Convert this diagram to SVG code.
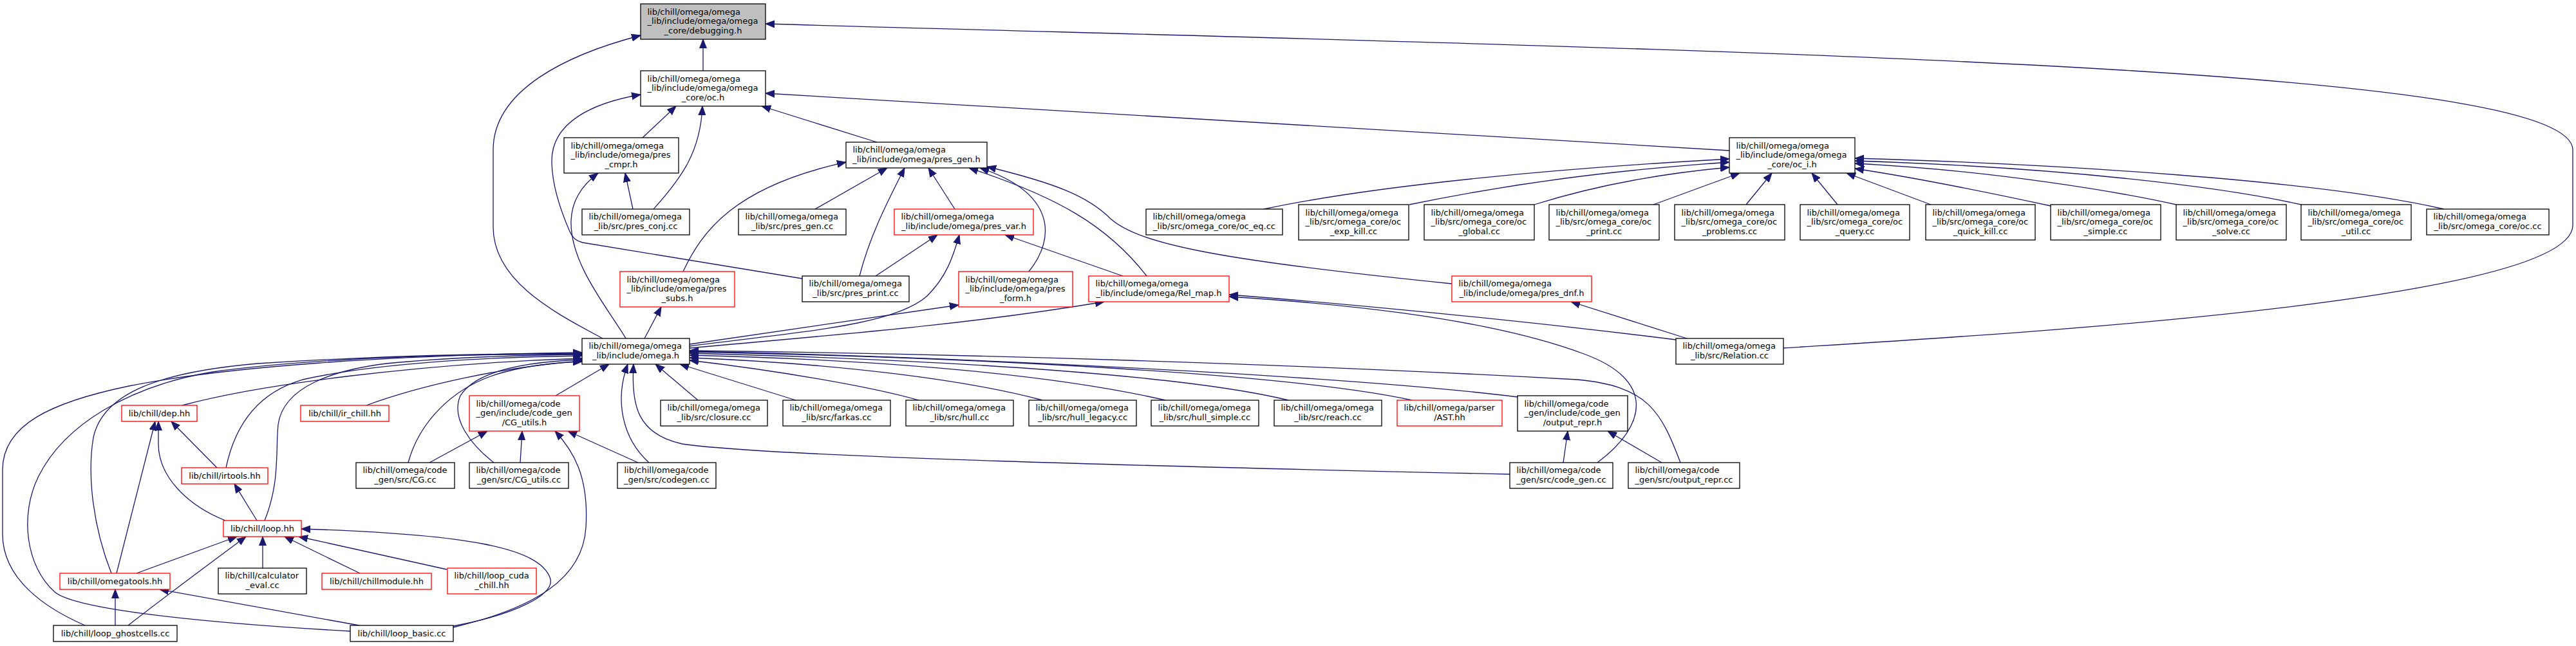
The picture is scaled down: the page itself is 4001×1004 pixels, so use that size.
<svg xmlns="http://www.w3.org/2000/svg" width="4001" height="1004" viewBox="0 0 4001 1004">
<style>
.n rect{fill:#fff;stroke:#000;stroke-width:1.3}
.n.red rect{stroke:#f00}
.n.root rect{fill:#bfbfbf}
text{font-family:"DejaVu Sans","Liberation Sans",sans-serif;font-size:13px;fill:#000}
.l{text-anchor:start}
.c{text-anchor:middle}
#edges path{fill:none;stroke:#191970;stroke-width:1.3;marker-end:url(#a)}
</style>
<defs>
<marker id="a" markerUnits="userSpaceOnUse" markerWidth="14" markerHeight="12" refX="14" refY="6" orient="auto" viewBox="0 0 14 12"><path d="M0,0.5 L14,6 L0,11.5 z" fill="#191970" stroke="#191970" stroke-width="1"/></marker>
</defs>
<rect x="0" y="0" width="4001" height="1004" fill="#fff"/>
<g id="edges">
<path d="M1092,110 L1092,61"/>
<path d="M936,526 C870,490 766,440 766,353 L766,233 C766,140 880,85 995,55"/>
<path d="M2770,541 C3100,520 3996,470 3996,350 L3996,233 C3996,100 2700,80 1189,37"/>
<path d="M998,214 L1050,165"/>
<path d="M1015,325 C1060,275 1088,235 1091,165"/>
<path d="M983,325 L971,269"/>
<path d="M1362,221 L1183,165"/>
<path d="M2686,234 Q1950,188 1189,145"/>
<path d="M1246,433 L905,377 Q891,374 885,360 C872,330 857,290 857,250 C857,190 920,160 995,147"/>
<path d="M1266,325 L1378,261"/>
<path d="M1335,429 C1350,370 1375,320 1405,261"/>
<path d="M1483,325 L1442,261"/>
<path d="M1781,429 C1720,350 1640,305 1505,261"/>
<path d="M1598,422 C1640,370 1640,300 1522,261"/>
<path d="M2255,441 C1900,405 1770,380 1725,340 C1690,305 1640,285 1533,259"/>
<path d="M1061,422 C1090,360 1140,290 1314,252"/>
<path d="M1001,526 L1027,477"/>
<path d="M972,526 C945,480 885,410 887,343 C888,310 905,287 929,269"/>
<path d="M1360,429 L1456,365"/>
<path d="M1071,538 C1250,515 1390,505 1440,460 C1470,430 1480,400 1490,365"/>
<path d="M1744,429 L1561,365"/>
<path d="M1071,535 L1489,474"/>
<path d="M1071,541 C1300,520 1500,505 1715,469"/>
<path d="M2603,528 C2300,490 2000,465 1909,458"/>
<path d="M2481,719 C2560,660 2570,590 2460,550 C2300,490 2050,470 1909,461"/>
<path d="M2620,526 L2440,469"/>
<path d="M1963,325 C2150,285 2450,260 2686,247"/>
<path d="M2189,318 C2350,285 2500,265 2686,252"/>
<path d="M2383,318 Q2520,275 2686,260"/>
<path d="M2568,318 L2702,269"/>
<path d="M2712,318 L2752,269"/>
<path d="M2854,318 L2814,269"/>
<path d="M2999,318 L2868,269"/>
<path d="M3185,320 Q3000,280 2881,262"/>
<path d="M3380,318 C3300,300 3100,265 2881,254"/>
<path d="M3574,318 C3450,290 3200,260 2881,250"/>
<path d="M3796,325 C3600,280 3200,255 2881,246"/>
<path d="M2581,719 L2497,670"/>
<path d="M2428,719 L2435,670"/>
<path d="M667,719 L757,670"/>
<path d="M808,719 L811,670"/>
<path d="M991,719 L882,670"/>
<path d="M704,975 C830,945 905,900 910,820 C915,740 890,700 862,670"/>
<path d="M863,615 L946,566"/>
<path d="M1008,719 C965,680 955,620 975,566"/>
<path d="M2345,737 C1800,725 1200,710 1060,690 C990,675 980,630 984,566"/>
<path d="M1084,622 L1018,566"/>
<path d="M1236,622 L1056,566"/>
<path d="M1427,622 C1350,600 1200,575 1071,560"/>
<path d="M1619,622 C1500,590 1300,565 1071,556"/>
<path d="M1810,622 C1650,585 1400,560 1071,552"/>
<path d="M2001,622 C1850,585 1500,560 1071,549"/>
<path d="M2193,622 C2000,580 1500,555 1071,547"/>
<path d="M2357,617 C2100,585 1500,555 1071,546"/>
<path d="M2610,719 C2580,640 2560,600 2450,590 C2000,565 1500,550 1071,545"/>
<path d="M283,630 C400,598 650,565 904,557"/>
<path d="M569,630 C650,600 780,570 904,561"/>
<path d="M351,727 C365,660 400,610 470,590 C580,565 750,555 904,553"/>
<path d="M411,809 C435,750 428,700 432,660 C440,600 520,575 600,565 C700,555 800,552 904,551"/>
<path d="M173,891 C145,820 135,740 145,680 C160,610 250,578 400,565 C600,552 750,550 904,549"/>
<path d="M132,972 C70,945 4,900 4,830 L4,730 C4,660 80,625 200,600 C350,570 600,552 904,548"/>
<path d="M544,981 C350,970 120,950 85,920 C40,880 30,800 60,740 C100,660 200,600 330,578 C500,555 700,551 904,550"/>
<path d="M634,719 C650,660 700,600 784,578 C830,566 870,563 904,562"/>
<path d="M767,719 C730,690 700,650 715,615 C740,575 820,562 904,559"/>
<path d="M350,809 C290,785 246,740 246,690 L246,655"/>
<path d="M337,727 L266,655"/>
<path d="M181,891 L241,655"/>
<path d="M399,809 L364,752"/>
<path d="M212,891 L368,834"/>
<path d="M199,972 C240,940 320,880 382,834"/>
<path d="M408,883 L408,834"/>
<path d="M559,891 L442,834"/>
<path d="M694,885 L464,834"/>
<path d="M704,973 C800,955 860,925 855,900 C840,850 720,830 468,822"/>
<path d="M179,972 L179,916"/>
<path d="M558,972 L248,916"/>
</g>
<g id="n_debugging" class="n root"><rect x="995" y="6" width="194" height="55"/><text class="l" x="1005.5" y="23">lib/chill/omega/omega</text><text class="l" x="1005.5" y="37.3">_lib/include/omega/omega</text><text class="c" x="1092" y="51.6">_core/debugging.h</text></g>
<g id="n_oc_h" class="n"><rect x="995" y="110" width="194" height="55"/><text class="l" x="1005.5" y="127">lib/chill/omega/omega</text><text class="l" x="1005.5" y="141.3">_lib/include/omega/omega</text><text class="c" x="1092" y="155.6">_core/oc.h</text></g>
<g id="n_pres_cmpr" class="n"><rect x="876" y="214" width="178" height="55"/><text class="l" x="886.5" y="231">lib/chill/omega/omega</text><text class="l" x="886.5" y="245.3">_lib/include/omega/pres</text><text class="c" x="965" y="259.6">_cmpr.h</text></g>
<g id="n_pres_gen_h" class="n"><rect x="1314" y="221" width="219" height="40"/><text class="l" x="1324.5" y="237.4">lib/chill/omega/omega</text><text class="c" x="1423.5" y="251.7">_lib/include/omega/pres_gen.h</text></g>
<g id="n_oc_i" class="n"><rect x="2686" y="214" width="195" height="55"/><text class="l" x="2696.5" y="231">lib/chill/omega/omega</text><text class="l" x="2696.5" y="245.3">_lib/include/omega/omega</text><text class="c" x="2783.5" y="259.6">_core/oc_i.h</text></g>
<g id="n_pres_conj" class="n"><rect x="904" y="325" width="167" height="40"/><text class="l" x="914.5" y="341.4">lib/chill/omega/omega</text><text class="c" x="987.5" y="355.7">_lib/src/pres_conj.cc</text></g>
<g id="n_pres_gen_cc" class="n"><rect x="1147" y="325" width="167" height="40"/><text class="l" x="1157.5" y="341.4">lib/chill/omega/omega</text><text class="c" x="1230.5" y="355.7">_lib/src/pres_gen.cc</text></g>
<g id="n_pres_var" class="n red"><rect x="1389" y="325" width="216" height="40"/><text class="l" x="1399.5" y="341.4">lib/chill/omega/omega</text><text class="c" x="1497" y="355.7">_lib/include/omega/pres_var.h</text></g>
<g id="n_oc_eq" class="n"><rect x="1780" y="325" width="212" height="40"/><text class="l" x="1790.5" y="341.4">lib/chill/omega/omega</text><text class="c" x="1886" y="355.7">_lib/src/omega_core/oc_eq.cc</text></g>
<g id="n_oc_exp_kill" class="n"><rect x="2017" y="318" width="171" height="55"/><text class="l" x="2027.5" y="335">lib/chill/omega/omega</text><text class="l" x="2027.5" y="349.3">_lib/src/omega_core/oc</text><text class="c" x="2102.5" y="363.6">_exp_kill.cc</text></g>
<g id="n_oc_global" class="n"><rect x="2212" y="318" width="171" height="55"/><text class="l" x="2222.5" y="335">lib/chill/omega/omega</text><text class="l" x="2222.5" y="349.3">_lib/src/omega_core/oc</text><text class="c" x="2297.5" y="363.6">_global.cc</text></g>
<g id="n_oc_print" class="n"><rect x="2406" y="318" width="171" height="55"/><text class="l" x="2416.5" y="335">lib/chill/omega/omega</text><text class="l" x="2416.5" y="349.3">_lib/src/omega_core/oc</text><text class="c" x="2491.5" y="363.6">_print.cc</text></g>
<g id="n_oc_problems" class="n"><rect x="2601" y="318" width="171" height="55"/><text class="l" x="2611.5" y="335">lib/chill/omega/omega</text><text class="l" x="2611.5" y="349.3">_lib/src/omega_core/oc</text><text class="c" x="2686.5" y="363.6">_problems.cc</text></g>
<g id="n_oc_query" class="n"><rect x="2796" y="318" width="170" height="55"/><text class="l" x="2806.5" y="335">lib/chill/omega/omega</text><text class="l" x="2806.5" y="349.3">_lib/src/omega_core/oc</text><text class="c" x="2881" y="363.6">_query.cc</text></g>
<g id="n_oc_quick_kill" class="n"><rect x="2991" y="318" width="170" height="55"/><text class="l" x="3001.5" y="335">lib/chill/omega/omega</text><text class="l" x="3001.5" y="349.3">_lib/src/omega_core/oc</text><text class="c" x="3076" y="363.6">_quick_kill.cc</text></g>
<g id="n_oc_simple" class="n"><rect x="3185" y="318" width="171" height="55"/><text class="l" x="3195.5" y="335">lib/chill/omega/omega</text><text class="l" x="3195.5" y="349.3">_lib/src/omega_core/oc</text><text class="c" x="3270.5" y="363.6">_simple.cc</text></g>
<g id="n_oc_solve" class="n"><rect x="3380" y="318" width="171" height="55"/><text class="l" x="3390.5" y="335">lib/chill/omega/omega</text><text class="l" x="3390.5" y="349.3">_lib/src/omega_core/oc</text><text class="c" x="3465.5" y="363.6">_solve.cc</text></g>
<g id="n_oc_util" class="n"><rect x="3574" y="318" width="171" height="55"/><text class="l" x="3584.5" y="335">lib/chill/omega/omega</text><text class="l" x="3584.5" y="349.3">_lib/src/omega_core/oc</text><text class="c" x="3659.5" y="363.6">_util.cc</text></g>
<g id="n_oc_cc" class="n"><rect x="3769" y="325" width="190" height="40"/><text class="l" x="3779.5" y="341.4">lib/chill/omega/omega</text><text class="c" x="3864" y="355.7">_lib/src/omega_core/oc.cc</text></g>
<g id="n_pres_subs" class="n red"><rect x="963" y="422" width="178" height="55"/><text class="l" x="973.5" y="439">lib/chill/omega/omega</text><text class="l" x="973.5" y="453.3">_lib/include/omega/pres</text><text class="c" x="1052" y="467.6">_subs.h</text></g>
<g id="n_pres_print" class="n"><rect x="1246" y="429" width="166" height="40"/><text class="l" x="1256.5" y="445.4">lib/chill/omega/omega</text><text class="c" x="1329" y="459.7">_lib/src/pres_print.cc</text></g>
<g id="n_pres_form" class="n red"><rect x="1489" y="422" width="177" height="55"/><text class="l" x="1499.5" y="439">lib/chill/omega/omega</text><text class="l" x="1499.5" y="453.3">_lib/include/omega/pres</text><text class="c" x="1577.5" y="467.6">_form.h</text></g>
<g id="n_Rel_map" class="n red"><rect x="1691" y="429" width="218" height="40"/><text class="l" x="1701.5" y="445.4">lib/chill/omega/omega</text><text class="c" x="1800" y="459.7">_lib/include/omega/Rel_map.h</text></g>
<g id="n_pres_dnf" class="n red"><rect x="2255" y="429" width="217" height="40"/><text class="l" x="2265.5" y="445.4">lib/chill/omega/omega</text><text class="c" x="2363.5" y="459.7">_lib/include/omega/pres_dnf.h</text></g>
<g id="n_omega_h" class="n"><rect x="904" y="526" width="167" height="40"/><text class="l" x="914.5" y="542.4">lib/chill/omega/omega</text><text class="c" x="987.5" y="556.7">_lib/include/omega.h</text></g>
<g id="n_Relation" class="n"><rect x="2603" y="526" width="167" height="40"/><text class="l" x="2613.5" y="542.4">lib/chill/omega/omega</text><text class="c" x="2686.5" y="556.7">_lib/src/Relation.cc</text></g>
<g id="n_dep" class="n red"><rect x="189" y="630" width="117" height="25"/><text class="c" x="247.5" y="646.5">lib/chill/dep.hh</text></g>
<g id="n_ir_chill" class="n red"><rect x="467" y="630" width="137" height="25"/><text class="c" x="535.5" y="646.5">lib/chill/ir_chill.hh</text></g>
<g id="n_CG_utils_h" class="n red"><rect x="729" y="615" width="171" height="55"/><text class="l" x="739.5" y="632">lib/chill/omega/code</text><text class="l" x="739.5" y="646.3">_gen/include/code_gen</text><text class="c" x="814.5" y="660.6">/CG_utils.h</text></g>
<g id="n_closure" class="n"><rect x="1026" y="622" width="166" height="40"/><text class="l" x="1036.5" y="638.4">lib/chill/omega/omega</text><text class="c" x="1109" y="652.7">_lib/src/closure.cc</text></g>
<g id="n_farkas" class="n"><rect x="1216" y="622" width="167" height="40"/><text class="l" x="1226.5" y="638.4">lib/chill/omega/omega</text><text class="c" x="1299.5" y="652.7">_lib/src/farkas.cc</text></g>
<g id="n_hull" class="n"><rect x="1407" y="622" width="167" height="40"/><text class="l" x="1417.5" y="638.4">lib/chill/omega/omega</text><text class="c" x="1490.5" y="652.7">_lib/src/hull.cc</text></g>
<g id="n_hull_legacy" class="n"><rect x="1598" y="622" width="167" height="40"/><text class="l" x="1608.5" y="638.4">lib/chill/omega/omega</text><text class="c" x="1681.5" y="652.7">_lib/src/hull_legacy.cc</text></g>
<g id="n_hull_simple" class="n"><rect x="1788" y="622" width="167" height="40"/><text class="l" x="1798.5" y="638.4">lib/chill/omega/omega</text><text class="c" x="1871.5" y="652.7">_lib/src/hull_simple.cc</text></g>
<g id="n_reach" class="n"><rect x="1979" y="622" width="167" height="40"/><text class="l" x="1989.5" y="638.4">lib/chill/omega/omega</text><text class="c" x="2062.5" y="652.7">_lib/src/reach.cc</text></g>
<g id="n_AST" class="n red"><rect x="2170" y="622" width="163" height="40"/><text class="l" x="2180.5" y="638.4">lib/chill/omega/parser</text><text class="c" x="2251.5" y="652.7">/AST.hh</text></g>
<g id="n_output_repr_h" class="n"><rect x="2357" y="615" width="171" height="55"/><text class="l" x="2367.5" y="632">lib/chill/omega/code</text><text class="l" x="2367.5" y="646.3">_gen/include/code_gen</text><text class="c" x="2442.5" y="660.6">/output_repr.h</text></g>
<g id="n_irtools" class="n red"><rect x="282" y="727" width="134" height="25"/><text class="c" x="349" y="743.5">lib/chill/irtools.hh</text></g>
<g id="n_CG_cc" class="n"><rect x="553" y="719" width="153" height="40"/><text class="l" x="563.5" y="735.4">lib/chill/omega/code</text><text class="c" x="629.5" y="749.7">_gen/src/CG.cc</text></g>
<g id="n_CG_utils_cc" class="n"><rect x="729" y="719" width="154" height="40"/><text class="l" x="739.5" y="735.4">lib/chill/omega/code</text><text class="c" x="806" y="749.7">_gen/src/CG_utils.cc</text></g>
<g id="n_codegen" class="n"><rect x="959" y="719" width="153" height="40"/><text class="l" x="969.5" y="735.4">lib/chill/omega/code</text><text class="c" x="1035.5" y="749.7">_gen/src/codegen.cc</text></g>
<g id="n_code_gen_cc" class="n"><rect x="2345" y="719" width="160" height="40"/><text class="l" x="2355.5" y="735.4">lib/chill/omega/code</text><text class="c" x="2425" y="749.7">_gen/src/code_gen.cc</text></g>
<g id="n_output_repr_cc" class="n"><rect x="2529" y="719" width="173" height="40"/><text class="l" x="2539.5" y="735.4">lib/chill/omega/code</text><text class="c" x="2615.5" y="749.7">_gen/src/output_repr.cc</text></g>
<g id="n_loop_hh" class="n red"><rect x="347" y="809" width="121" height="25"/><text class="c" x="407.5" y="825.5">lib/chill/loop.hh</text></g>
<g id="n_omegatools" class="n red"><rect x="93" y="891" width="171" height="25"/><text class="c" x="178.5" y="907.5">lib/chill/omegatools.hh</text></g>
<g id="n_calculator_eval" class="n"><rect x="339" y="883" width="137" height="40"/><text class="l" x="349.5" y="899.4">lib/chill/calculator</text><text class="c" x="407.5" y="913.7">_eval.cc</text></g>
<g id="n_chillmodule" class="n red"><rect x="500" y="891" width="170" height="25"/><text class="c" x="585" y="907.5">lib/chill/chillmodule.hh</text></g>
<g id="n_loop_cuda_chill" class="n red"><rect x="695" y="883" width="138" height="40"/><text class="l" x="705.5" y="899.4">lib/chill/loop_cuda</text><text class="c" x="764" y="913.7">_chill.hh</text></g>
<g id="n_loop_ghostcells" class="n"><rect x="83" y="972" width="192" height="25"/><text class="c" x="179" y="988.5">lib/chill/loop_ghostcells.cc</text></g>
<g id="n_loop_basic" class="n"><rect x="544" y="972" width="160" height="25"/><text class="c" x="624" y="988.5">lib/chill/loop_basic.cc</text></g>
</svg>
